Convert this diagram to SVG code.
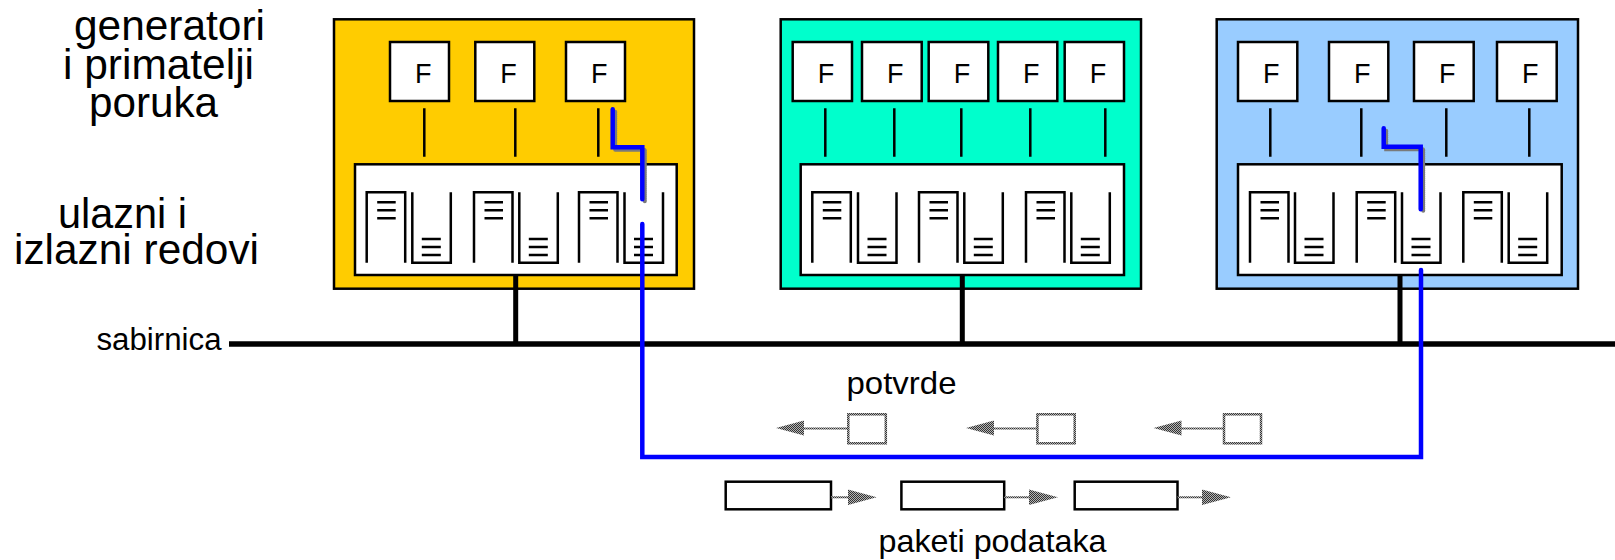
<svg xmlns="http://www.w3.org/2000/svg" xmlns:xlink="http://www.w3.org/1999/xlink" width="1615" height="560" viewBox="0 0 1615 560">
<style>
.lbl{font-family:"Liberation Sans",Arial,sans-serif;fill:#000}
.big{font-size:43px}
.mid{font-size:32px}
.fl{font-family:"Liberation Sans",Arial,sans-serif;font-size:27px;fill:#000}
.outer{stroke:#000;stroke-width:2.5}
.wbox{fill:#fff;stroke:#000;stroke-width:2.5}
.ln{stroke:#000;stroke-width:2.5;fill:none}
.conn{stroke:#000;stroke-width:5;fill:none}
.blue{stroke:#0000ff;stroke-width:4.5;fill:none;stroke-linecap:round;stroke-linejoin:miter}
.shadow{stroke:#7a7a7a;stroke-width:4;fill:none;stroke-linecap:round;stroke-dasharray:1 1}
.ht{fill:url(#ht)}
.htl{stroke:url(#ht);stroke-width:2;fill:none}
.ack{fill:#fff;stroke:url(#ht);stroke-width:2.5}
.pkt{fill:#fff;stroke:#000;stroke-width:2.5}
</style>
<defs>
<pattern id="ht" width="2" height="2" patternUnits="userSpaceOnUse">
<rect width="2" height="2" fill="#b4b4b4"/>
<rect width="1" height="1" fill="#333"/>
<rect x="1" y="1" width="1" height="1" fill="#333"/>
</pattern>
<g id="inq">
<path class="ln" d="M0,70.4 V0 H38.5 V70.4"/>
<path class="ln" d="M10.5,10 h18.5 M10.5,18 h18.5 M10.5,26 h18.5"/>
</g>
<g id="outq">
<path class="ln" d="M0,0 V70.4 H38.5 V0"/>
<path class="ln" d="M9.5,46.7 h19 M9.5,54.7 h19 M9.5,62.7 h19"/>
</g>
</defs>

<g id="labels">
<text class="lbl big" x="74" y="40" textLength="191" lengthAdjust="spacingAndGlyphs">generatori</text>
<text class="lbl big" x="63" y="79" textLength="191" lengthAdjust="spacingAndGlyphs">i primatelji</text>
<text class="lbl big" x="89" y="117" textLength="129" lengthAdjust="spacingAndGlyphs">poruka</text>
<text class="lbl big" x="58" y="228" textLength="129" lengthAdjust="spacingAndGlyphs">ulazni i</text>
<text class="lbl big" x="14" y="263.5" textLength="245" lengthAdjust="spacingAndGlyphs">izlazni redovi</text>
<text class="lbl" style="font-size:31px" x="96.5" y="350" textLength="125" lengthAdjust="spacingAndGlyphs">sabirnica</text>
<text class="lbl mid" x="846.5" y="394" textLength="110" lengthAdjust="spacingAndGlyphs">potvrde</text>
<text class="lbl mid" x="878.5" y="552" textLength="228" lengthAdjust="spacingAndGlyphs">paketi podataka</text>
</g>

<g id="node-orange">
<rect class="outer" x="334" y="19.3" width="360" height="269.4" fill="#ffcc00"/>
<rect class="wbox" x="390" y="42" width="59" height="59"/>
<rect class="wbox" x="475.3" y="42" width="59" height="59"/>
<rect class="wbox" x="566" y="42" width="59" height="59"/>
<text class="fl" x="415" y="82.5">F</text>
<text class="fl" x="500.3" y="82.5">F</text>
<text class="fl" x="591" y="82.5">F</text>
<path class="ln" d="M424.3,108.3 V156.7 M515.3,108.3 V156.7 M598.3,108.3 V156.7"/>
<rect class="wbox" x="355" y="164.3" width="321.7" height="110.7"/>
<use xlink:href="#inq" x="366.7" y="192.3"/>
<use xlink:href="#outq" x="412.3" y="192.3"/>
<use xlink:href="#inq" x="474" y="192.3"/>
<use xlink:href="#outq" x="519.3" y="192.3"/>
<use xlink:href="#inq" x="579" y="192.3"/>
<use xlink:href="#outq" x="624.5" y="192.3"/>
</g>

<g id="node-teal">
<rect class="outer" x="780.7" y="19.3" width="360.3" height="269.4" fill="#00ffcc"/>
<rect class="wbox" x="792.7" y="42" width="59.3" height="59"/>
<rect class="wbox" x="862" y="42" width="59.7" height="59"/>
<rect class="wbox" x="928.7" y="42" width="59.6" height="59"/>
<rect class="wbox" x="998" y="42" width="59.3" height="59"/>
<rect class="wbox" x="1064.7" y="42" width="59.3" height="59"/>
<text class="fl" x="817.7" y="82.5">F</text>
<text class="fl" x="887" y="82.5">F</text>
<text class="fl" x="953.7" y="82.5">F</text>
<text class="fl" x="1023" y="82.5">F</text>
<text class="fl" x="1089.7" y="82.5">F</text>
<path class="ln" d="M825.3,108.3 V156.7 M894.3,108.3 V156.7 M961.3,108.3 V156.7 M1030.3,108.3 V156.7 M1105.3,108.3 V156.7"/>
<rect class="wbox" x="800.7" y="164.3" width="323.3" height="110.7"/>
<use xlink:href="#inq" x="812.3" y="192.3"/>
<use xlink:href="#outq" x="858" y="192.3"/>
<use xlink:href="#inq" x="919" y="192.3"/>
<use xlink:href="#outq" x="964.3" y="192.3"/>
<use xlink:href="#inq" x="1026" y="192.3"/>
<use xlink:href="#outq" x="1071.3" y="192.3"/>
</g>

<g id="node-blue">
<rect class="outer" x="1216.7" y="19.3" width="361.3" height="269.4" fill="#99ccff"/>
<rect class="wbox" x="1238" y="42" width="59.3" height="59"/>
<rect class="wbox" x="1329" y="42" width="59.3" height="59"/>
<rect class="wbox" x="1414" y="42" width="59.7" height="59"/>
<rect class="wbox" x="1497" y="42" width="59.7" height="59"/>
<text class="fl" x="1263" y="82.5">F</text>
<text class="fl" x="1354" y="82.5">F</text>
<text class="fl" x="1439" y="82.5">F</text>
<text class="fl" x="1522" y="82.5">F</text>
<path class="ln" d="M1270.3,108.3 V156.7 M1361.3,108.3 V156.7 M1446.3,108.3 V156.7 M1529.3,108.3 V156.7"/>
<rect class="wbox" x="1238" y="164.3" width="323.7" height="110.7"/>
<use xlink:href="#inq" x="1250" y="192.3"/>
<use xlink:href="#outq" x="1295" y="192.3"/>
<use xlink:href="#inq" x="1356.7" y="192.3"/>
<use xlink:href="#outq" x="1402" y="192.3"/>
<use xlink:href="#inq" x="1463.3" y="192.3"/>
<use xlink:href="#outq" x="1508.7" y="192.3"/>
</g>

<g id="connectors">
<line x1="229" y1="344" x2="1615" y2="344" stroke="#000" stroke-width="5.5"/>
<path class="conn" d="M515.7,276 V344 M962.3,276 V344 M1400,276 V344"/>
<path class="shadow" d="M615.2,111.8 V149.8 H644.8 V201.8"/>
<path class="blue" d="M612.7,109.3 V147.3 H642.3 V199.3"/>
<path class="shadow" d="M1386.2,130.8 V149.2 H1423.2 V211.8"/>
<path class="blue" d="M1383.7,128.3 V146.7 H1420.7 V209.3"/>
<path class="blue" d="M642.3,224 V457 H1421 V270"/>
</g>

<g id="acks">
<rect class="ack" x="848.3" y="414.3" width="37.5" height="29"/>
<line class="htl" x1="803" y1="428.5" x2="848.3" y2="428.5"/>
<polygon class="ht" points="776,428 804,420.5 804,435.5"/>
<rect class="ack" x="1037.4" y="414.3" width="37.3" height="29"/>
<line class="htl" x1="993" y1="428.5" x2="1037.4" y2="428.5"/>
<polygon class="ht" points="966,428 994,420.5 994,435.5"/>
<rect class="ack" x="1224" y="414.3" width="37" height="29"/>
<line class="htl" x1="1180" y1="428.5" x2="1224" y2="428.5"/>
<polygon class="ht" points="1153.5,428 1181.5,420.5 1181.5,435.5"/>
</g>

<g id="packets">
<rect class="pkt" x="725.7" y="481.7" width="105.3" height="27.6"/>
<line class="htl" x1="831" y1="497.3" x2="849" y2="497.3"/>
<polygon class="ht" points="848,489.5 876.7,497.3 848,505"/>
<rect class="pkt" x="901.4" y="481.7" width="102.8" height="27.6"/>
<line class="htl" x1="1004.2" y1="497.3" x2="1030" y2="497.3"/>
<polygon class="ht" points="1029,489.5 1058,497.3 1029,505"/>
<rect class="pkt" x="1074.7" y="481.7" width="102.8" height="27.6"/>
<line class="htl" x1="1177.5" y1="497.3" x2="1203" y2="497.3"/>
<polygon class="ht" points="1202,489.5 1231,497.3 1202,505"/>
</g>
</svg>
